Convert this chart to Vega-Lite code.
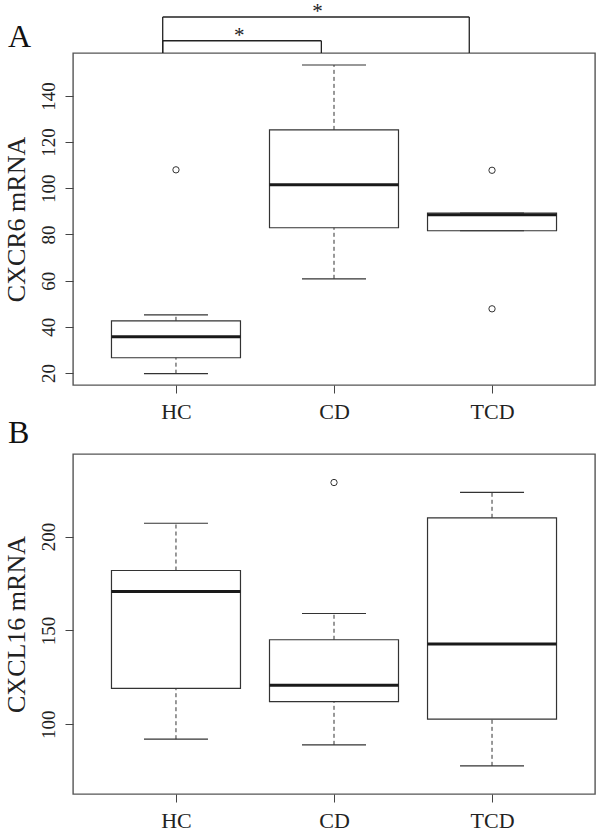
{
  "$schema": "https://vega.github.io/schema/vega-lite/v6.json",
  "padding": {"left": 2, "top": 0, "right": 2, "bottom": 0},
  "background": "white",
  "spacing": -7,
  "config": {
    "font": "Liberation Serif",
    "view": {"stroke": "#555", "strokeWidth": 1.4},
    "axis": {"grid": false, "domain": false, "tickColor": "#444", "tickSize": 8, "tickWidth": 1, "labelColor": "#222", "titleColor": "#222", "labelFont": "Liberation Serif", "titleFont": "Liberation Serif", "titleFontWeight": "normal"},
    "axisX": {"labelFontSize": 22, "labelPadding": 8},
    "axisY": {"labelFontSize": 19, "labelAngle": 270, "labelAlign": "center", "labelBaseline": "bottom", "labelPadding": 7, "titleFontSize": 26, "titlePadding": 10},
    "title": {"font": "Liberation Serif", "fontSize": 32, "fontWeight": "normal", "color": "#111", "anchor": "start", "frame": "group"},
    "tick": {"opacity": 1},
    "point": {"opacity": 1}
  },
  "datasets": {
    "boxA": [
      {"group": "HC", "idx": 1, "lower": 19.7, "q1": 26.6, "median": 35.7, "q3": 42.6, "upper": 45.2},
      {"group": "CD", "idx": 2, "lower": 60.8, "q1": 82.9, "median": 101.5, "q3": 125.3, "upper": 153.4},
      {"group": "TCD", "idx": 3, "lower": 81.6, "q1": 81.6, "median": 88.5, "q3": 89.3, "upper": 89.3}
    ],
    "outA": [
      {"group": "HC", "idx": 1, "value": 108.0},
      {"group": "TCD", "idx": 3, "value": 107.8},
      {"group": "TCD", "idx": 3, "value": 47.8}
    ],
    "brackets": [
      {"from": 0.916, "to": 1.92, "mid": 1.40, "base": 158.6, "top": 163.9, "label": "*"},
      {"from": 0.916, "to": 2.856, "mid": 1.896, "base": 158.6, "top": 174.2, "label": "*"}
    ],
    "boxB": [
      {"group": "HC", "idx": 1, "lower": 92.0, "q1": 119.1, "median": 170.7, "q3": 181.9, "upper": 207.1},
      {"group": "CD", "idx": 2, "lower": 89.0, "q1": 112.0, "median": 120.7, "q3": 145.0, "upper": 159.0},
      {"group": "TCD", "idx": 3, "lower": 77.8, "q1": 102.7, "median": 142.7, "q3": 210.0, "upper": 223.6}
    ],
    "outB": [
      {"group": "CD", "idx": 2, "value": 228.8}
    ]
  },
  "vconcat": [
    {
      "width": 522,
      "height": 332,
      "title": {"text": "A", "dx": -65, "offset": -78, "baseline": "alphabetic"},
      "layer": [
        {
          "data": {"name": "boxA"},
          "mark": {"type": "bar", "width": 129, "fill": "white", "stroke": "#333", "strokeWidth": 1.2},
          "encoding": {
            "x": {"field": "idx", "type": "quantitative", "scale": {"domain": [0.38, 3.62], "nice": false, "zero": false}, "axis": {"values": [1, 2, 3], "labelExpr": "datum.value == 1 ? 'HC' : datum.value == 2 ? 'CD' : 'TCD'", "title": null}},
            "y": {"field": "q1", "type": "quantitative", "scale": {"domain": [14.8, 158.6], "nice": false, "zero": false}, "axis": {"values": [20, 40, 60, 80, 100, 120, 140], "title": "CXCR6 mRNA"}},
            "y2": {"field": "q3"}
          }
        },
        {
          "data": {"name": "boxA"},
          "mark": {"type": "rule", "strokeDash": [4, 3], "stroke": "#333", "strokeWidth": 1},
          "encoding": {
            "x": {"field": "idx", "type": "quantitative", "axis": {"values": [1, 2, 3], "labelExpr": "datum.value == 1 ? 'HC' : datum.value == 2 ? 'CD' : 'TCD'", "title": null}},
            "y": {"field": "q3", "type": "quantitative", "axis": {"values": [20, 40, 60, 80, 100, 120, 140], "title": "CXCR6 mRNA"}},
            "y2": {"field": "upper"}
          }
        },
        {
          "data": {"name": "boxA"},
          "mark": {"type": "rule", "strokeDash": [4, 3], "stroke": "#333", "strokeWidth": 1},
          "encoding": {
            "x": {"field": "idx", "type": "quantitative", "axis": {"values": [1, 2, 3], "labelExpr": "datum.value == 1 ? 'HC' : datum.value == 2 ? 'CD' : 'TCD'", "title": null}},
            "y": {"field": "lower", "type": "quantitative", "axis": {"values": [20, 40, 60, 80, 100, 120, 140], "title": "CXCR6 mRNA"}},
            "y2": {"field": "q1"}
          }
        },
        {
          "data": {"name": "boxA"},
          "mark": {"type": "tick", "orient": "horizontal", "size": 64, "thickness": 1.2, "color": "#333"},
          "encoding": {
            "x": {"field": "idx", "type": "quantitative", "axis": {"values": [1, 2, 3], "labelExpr": "datum.value == 1 ? 'HC' : datum.value == 2 ? 'CD' : 'TCD'", "title": null}},
            "y": {"field": "upper", "type": "quantitative", "axis": {"values": [20, 40, 60, 80, 100, 120, 140], "title": "CXCR6 mRNA"}}
          }
        },
        {
          "data": {"name": "boxA"},
          "mark": {"type": "tick", "orient": "horizontal", "size": 64, "thickness": 1.2, "color": "#333"},
          "encoding": {
            "x": {"field": "idx", "type": "quantitative", "axis": {"values": [1, 2, 3], "labelExpr": "datum.value == 1 ? 'HC' : datum.value == 2 ? 'CD' : 'TCD'", "title": null}},
            "y": {"field": "lower", "type": "quantitative", "axis": {"values": [20, 40, 60, 80, 100, 120, 140], "title": "CXCR6 mRNA"}}
          }
        },
        {
          "data": {"name": "boxA"},
          "mark": {"type": "tick", "orient": "horizontal", "size": 129, "thickness": 3, "color": "#1a1a1a"},
          "encoding": {
            "x": {"field": "idx", "type": "quantitative", "axis": {"values": [1, 2, 3], "labelExpr": "datum.value == 1 ? 'HC' : datum.value == 2 ? 'CD' : 'TCD'", "title": null}},
            "y": {"field": "median", "type": "quantitative", "axis": {"values": [20, 40, 60, 80, 100, 120, 140], "title": "CXCR6 mRNA"}}
          }
        },
        {
          "data": {"name": "outA"},
          "mark": {"type": "point", "filled": false, "size": 40, "stroke": "#333", "strokeWidth": 1},
          "encoding": {
            "x": {"field": "idx", "type": "quantitative", "axis": {"values": [1, 2, 3], "labelExpr": "datum.value == 1 ? 'HC' : datum.value == 2 ? 'CD' : 'TCD'", "title": null}},
            "y": {"field": "value", "type": "quantitative", "axis": {"values": [20, 40, 60, 80, 100, 120, 140], "title": "CXCR6 mRNA"}}
          }
        },
        {
          "data": {"name": "brackets"},
          "mark": {"type": "rule", "stroke": "#222", "strokeWidth": 1.3},
          "encoding": {
            "x": {"field": "from", "type": "quantitative", "axis": {"values": [1, 2, 3], "labelExpr": "datum.value == 1 ? 'HC' : datum.value == 2 ? 'CD' : 'TCD'", "title": null}},
            "x2": {"field": "to"},
            "y": {"field": "top", "type": "quantitative", "axis": {"values": [20, 40, 60, 80, 100, 120, 140], "title": "CXCR6 mRNA"}}
          }
        },
        {
          "data": {"name": "brackets"},
          "mark": {"type": "rule", "stroke": "#222", "strokeWidth": 1.3},
          "encoding": {
            "x": {"field": "from", "type": "quantitative", "axis": {"values": [1, 2, 3], "labelExpr": "datum.value == 1 ? 'HC' : datum.value == 2 ? 'CD' : 'TCD'", "title": null}},
            "y": {"field": "base", "type": "quantitative", "axis": {"values": [20, 40, 60, 80, 100, 120, 140], "title": "CXCR6 mRNA"}},
            "y2": {"field": "top"}
          }
        },
        {
          "data": {"name": "brackets"},
          "mark": {"type": "rule", "stroke": "#222", "strokeWidth": 1.3},
          "encoding": {
            "x": {"field": "to", "type": "quantitative", "axis": {"values": [1, 2, 3], "labelExpr": "datum.value == 1 ? 'HC' : datum.value == 2 ? 'CD' : 'TCD'", "title": null}},
            "y": {"field": "base", "type": "quantitative", "axis": {"values": [20, 40, 60, 80, 100, 120, 140], "title": "CXCR6 mRNA"}},
            "y2": {"field": "top"}
          }
        },
        {
          "data": {"name": "brackets"},
          "mark": {"type": "text", "font": "Liberation Serif", "fontSize": 21, "baseline": "alphabetic", "align": "center", "dy": 1, "color": "#222"},
          "encoding": {
            "x": {"field": "mid", "type": "quantitative", "axis": {"values": [1, 2, 3], "labelExpr": "datum.value == 1 ? 'HC' : datum.value == 2 ? 'CD' : 'TCD'", "title": null}},
            "y": {"field": "top", "type": "quantitative", "axis": {"values": [20, 40, 60, 80, 100, 120, 140], "title": "CXCR6 mRNA"}},
            "text": {"field": "label"}
          }
        }
      ]
    },
    {
      "width": 522,
      "height": 340,
      "title": {"text": "B", "dx": -65, "offset": -21, "baseline": "alphabetic"},
      "layer": [
        {
          "data": {"name": "boxB"},
          "mark": {"type": "bar", "width": 129, "fill": "white", "stroke": "#333", "strokeWidth": 1.2},
          "encoding": {
            "x": {"field": "idx", "type": "quantitative", "scale": {"domain": [0.38, 3.62], "nice": false, "zero": false}, "axis": {"values": [1, 2, 3], "labelExpr": "datum.value == 1 ? 'HC' : datum.value == 2 ? 'CD' : 'TCD'", "title": null}},
            "y": {"field": "q1", "type": "quantitative", "scale": {"domain": [62.8, 244], "nice": false, "zero": false}, "axis": {"values": [100, 150, 200], "title": "CXCL16 mRNA"}},
            "y2": {"field": "q3"}
          }
        },
        {
          "data": {"name": "boxB"},
          "mark": {"type": "rule", "strokeDash": [4, 3], "stroke": "#333", "strokeWidth": 1},
          "encoding": {
            "x": {"field": "idx", "type": "quantitative", "axis": {"values": [1, 2, 3], "labelExpr": "datum.value == 1 ? 'HC' : datum.value == 2 ? 'CD' : 'TCD'", "title": null}},
            "y": {"field": "q3", "type": "quantitative", "axis": {"values": [100, 150, 200], "title": "CXCL16 mRNA"}},
            "y2": {"field": "upper"}
          }
        },
        {
          "data": {"name": "boxB"},
          "mark": {"type": "rule", "strokeDash": [4, 3], "stroke": "#333", "strokeWidth": 1},
          "encoding": {
            "x": {"field": "idx", "type": "quantitative", "axis": {"values": [1, 2, 3], "labelExpr": "datum.value == 1 ? 'HC' : datum.value == 2 ? 'CD' : 'TCD'", "title": null}},
            "y": {"field": "lower", "type": "quantitative", "axis": {"values": [100, 150, 200], "title": "CXCL16 mRNA"}},
            "y2": {"field": "q1"}
          }
        },
        {
          "data": {"name": "boxB"},
          "mark": {"type": "tick", "orient": "horizontal", "size": 64, "thickness": 1.2, "color": "#333"},
          "encoding": {
            "x": {"field": "idx", "type": "quantitative", "axis": {"values": [1, 2, 3], "labelExpr": "datum.value == 1 ? 'HC' : datum.value == 2 ? 'CD' : 'TCD'", "title": null}},
            "y": {"field": "upper", "type": "quantitative", "axis": {"values": [100, 150, 200], "title": "CXCL16 mRNA"}}
          }
        },
        {
          "data": {"name": "boxB"},
          "mark": {"type": "tick", "orient": "horizontal", "size": 64, "thickness": 1.2, "color": "#333"},
          "encoding": {
            "x": {"field": "idx", "type": "quantitative", "axis": {"values": [1, 2, 3], "labelExpr": "datum.value == 1 ? 'HC' : datum.value == 2 ? 'CD' : 'TCD'", "title": null}},
            "y": {"field": "lower", "type": "quantitative", "axis": {"values": [100, 150, 200], "title": "CXCL16 mRNA"}}
          }
        },
        {
          "data": {"name": "boxB"},
          "mark": {"type": "tick", "orient": "horizontal", "size": 129, "thickness": 3, "color": "#1a1a1a"},
          "encoding": {
            "x": {"field": "idx", "type": "quantitative", "axis": {"values": [1, 2, 3], "labelExpr": "datum.value == 1 ? 'HC' : datum.value == 2 ? 'CD' : 'TCD'", "title": null}},
            "y": {"field": "median", "type": "quantitative", "axis": {"values": [100, 150, 200], "title": "CXCL16 mRNA"}}
          }
        },
        {
          "data": {"name": "outB"},
          "mark": {"type": "point", "filled": false, "size": 40, "stroke": "#333", "strokeWidth": 1},
          "encoding": {
            "x": {"field": "idx", "type": "quantitative", "axis": {"values": [1, 2, 3], "labelExpr": "datum.value == 1 ? 'HC' : datum.value == 2 ? 'CD' : 'TCD'", "title": null}},
            "y": {"field": "value", "type": "quantitative", "axis": {"values": [100, 150, 200], "title": "CXCL16 mRNA"}}
          }
        }
      ]
    }
  ]
}
